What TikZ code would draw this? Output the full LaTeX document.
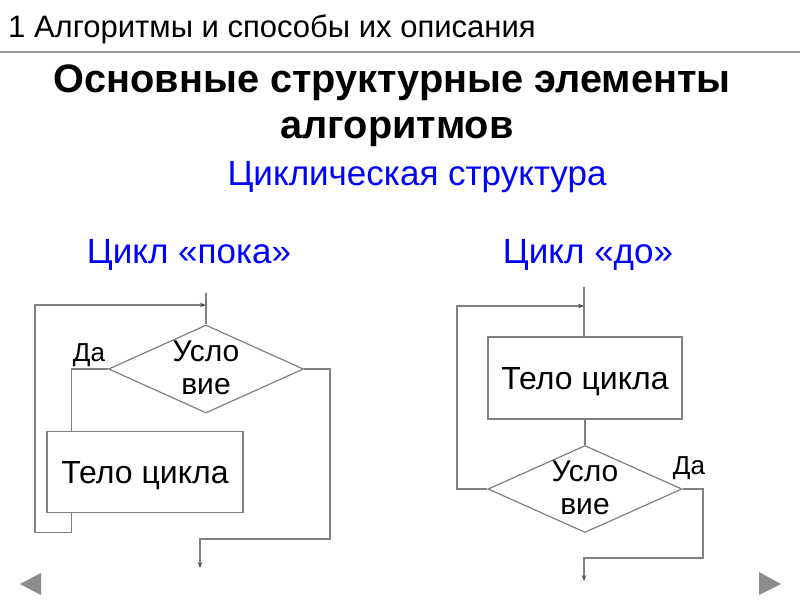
\documentclass[tikz,border=0pt]{standalone}
\usepackage{fontspec}
\setmainfont{Liberation Sans}
\usepackage{tikz}
\usetikzlibrary{positioning, arrows.meta, shapes.geometric}

\tikzset{
  link/.style={draw=black!50, line width=1.2pt},
  arr/.style={link, -{Stealth[length=6pt, width=4.5pt, black!70]}},
  body/.style={draw=black!50, line width=1.2pt, rectangle, minimum width=196pt,
    minimum height=81pt, inner sep=0pt, text depth=0pt, font=\fontsize{32}{35}\selectfont},
  cond/.style={draw=black!50, line width=1.2pt, diamond, minimum width=195pt,
    minimum height=88pt, inner sep=0pt},
  condtext/.style={align=center, font=\fontsize{30}{33}\selectfont, inner sep=0pt},
  yes/.style={font=\fontsize{26}{28}\selectfont, inner sep=0pt},
  navtri/.style={fill=black!45, draw=none}
}

\begin{document}
\begin{tikzpicture}[x=1pt, y=-1pt]
\useasboundingbox (0,0) rectangle (800,600);
% header
\node[anchor=base west, inner sep=0pt, font=\fontsize{31}{34}\selectfont] (head) at (8,37)
  {1 Алгоритмы и способы их описания};
\draw[black!40, line width=2pt] (0,52) -- (800,52);
% title
\node[anchor=base, inner sep=0pt, font=\fontsize{39.7}{42}\bfseries] (title1) at (392,92)
  {Основные структурные элементы};
\node[anchor=base, inner sep=0pt, font=\fontsize{39.7}{42}\bfseries] (title2) at (397,138)
  {алгоритмов};
\node[anchor=base, inner sep=0pt, text=blue, font=\fontsize{35}{38}\selectfont] (sub) at (417,185)
  {Циклическая структура};
\node[anchor=base, inner sep=0pt, text=blue, font=\fontsize{35}{38}\selectfont] (capL) at (189,263)
  {Цикл «пока»};
\node[anchor=base, inner sep=0pt, text=blue, font=\fontsize{35}{38}\selectfont] (capR) at (588,263)
  {Цикл «до»};

% loop "poka"
\coordinate (inL) at (206,293);
\coordinate (loopL) at (35,305);
\coordinate (outL) at (200,568);
\node[cond] (condL) at (206,369) {};
\node[condtext] (condLt) at (206,368) {Усло\\вие};
\node[body] (bodyL) at (145,472) {Тело цикла};
\node[yes] (yesL) at (89,355) {Да};
\draw[link] (inL) -- (condL.north);
\draw[link] (condL.west) -| ([xshift=25pt]bodyL.north west);
\draw[arr] ([xshift=25pt]bodyL.south west) -- ++(0,19) -| (loopL) -- (loopL -| inL);
\draw[arr] (condL.east) -| (330,539) -| (outL);

% loop "do"
\coordinate (inR) at (584,287);
\coordinate (loopR) at (457,306);
\coordinate (outR) at (584,581);
\node[body, minimum width=194pt, minimum height=82pt] (bodyR) at (585,378) {Тело цикла};
\node[cond, minimum width=194pt, minimum height=87pt] (condR) at (585,489) {};
\node[condtext] (condRt) at (585,488) {Усло\\вие};
\node[yes] (yesR) at (689,468) {Да};
\draw[link] (inR) -- (inR |- bodyR.north);
\draw[link] (bodyR.south) -- (condR.north);
\draw[arr] (condR.west) -| (loopR) -- (loopR -| inR);
\draw[arr] (condR.east) -| (703,558) -| (outR);

% navigation
\fill[navtri] (20,584) -- (41,573) -- (41,595) -- cycle;
\fill[navtri] (781,584) -- (759,572) -- (759,595) -- cycle;
\end{tikzpicture}
\end{document}
